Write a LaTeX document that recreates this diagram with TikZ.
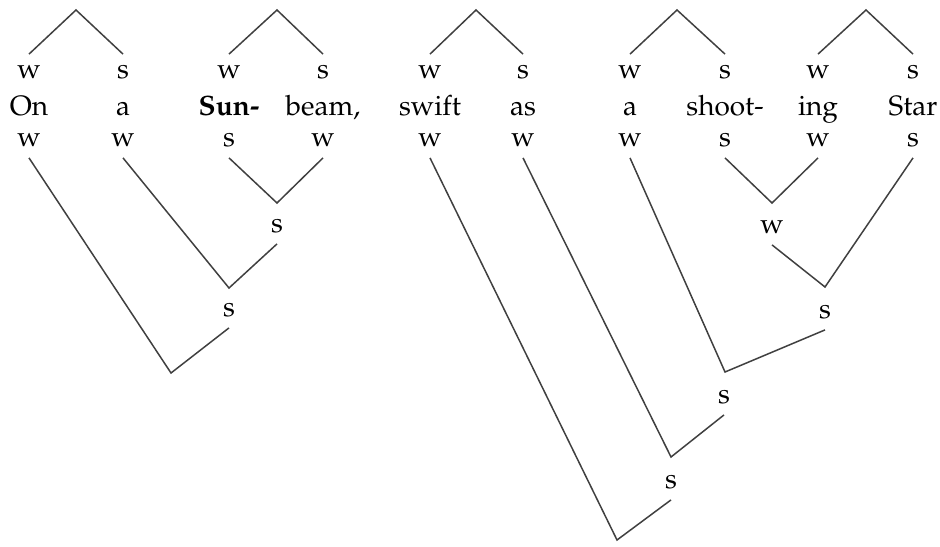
\documentclass[tikz,border=0pt]{standalone}
\usepackage[T1]{fontenc}
\usepackage{mathpazo}
\begin{document}
\begin{tikzpicture}[x=0.5pt,y=-0.5pt,
  lab/.style={inner sep=0pt,minimum height=17.5pt,font=\fontsize{14}{16}\selectfont},
  word/.style={inner sep=0pt,anchor=base,font=\fontsize{14}{16}\selectfont},
  edge/.style={line width=0.75pt,draw=black!75}]
\useasboundingbox (0,0) rectangle (940,546);
% columns
\foreach \n/\x/\tl/\w/\bl in {1/29/w/On/w,2/123/s/a/w,3/229/w/{\textbf{Sun-}}/s,4/323/s/{beam,}/w,
   5/430/w/swift/w,6/523/s/as/w,7/630/w/a/w,8/725/s/shoot-/s,9/818/w/ing/w,10/913/s/Star/s}{
  \node[lab] (t\n) at (\x,72) {\tl};
  \node[word] (m\n) at (\x,115) {\w};
  \node[lab] (b\n) at (\x,140) {\bl};
}
% top feet
\coordinate (a1) at (76,10);
\coordinate (a2) at (277,10);
\coordinate (a3) at (476,10);
\coordinate (a4) at (677,10);
\coordinate (a5) at (866,10);
\draw[edge] (t1.north) -- (a1) -- (t2.north);
\draw[edge] (t3.north) -- (a2) -- (t4.north);
\draw[edge] (t5.north) -- (a3) -- (t6.north);
\draw[edge] (t7.north) -- (a4) -- (t8.north);
\draw[edge] (t9.north) -- (a5) -- (t10.north);
% left tree
\coordinate (v1) at (277,203);
\node[lab] (n1) at (277,226) {s};
\coordinate (v2) at (229,288);
\node[lab] (n2) at (229,310) {s};
\coordinate (v3) at (171,373);
\draw[edge] (b3.south) -- (v1) -- (b4.south);
\draw[edge] (b2.south) -- (v2) -- (n1.south);
\draw[edge] (b1.south) -- (v3) -- (n2.south);
% right tree
\coordinate (r1) at (772,203);
\node[lab] (p1) at (772,227) {w};
\coordinate (r2) at (825,287);
\node[lab] (p2) at (825,312) {s};
\coordinate (r3) at (725,372);
\node[lab] (p3) at (724,397) {s};
\coordinate (r4) at (671,457);
\node[lab] (p4) at (671,482) {s};
\coordinate (r5) at (617,540);
\draw[edge] (b8.south) -- (r1) -- (b9.south);
\draw[edge] (p1.south) -- (r2) -- (b10.south);
\draw[edge] (b7.south) -- (r3) -- (p2.south);
\draw[edge] (b6.south) -- (r4) -- (p3.south);
\draw[edge] (b5.south) -- (r5) -- (p4.south);
\end{tikzpicture}
\end{document}
